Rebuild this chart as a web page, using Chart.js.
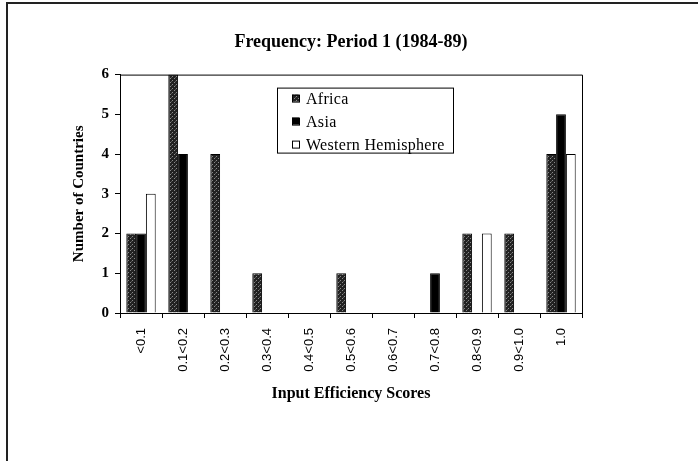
<!DOCTYPE html>
<html>
<head>
<meta charset="utf-8">
<script src="https://cdn.jsdelivr.net/npm/chart.js"></script>
<style>
    body { margin: 0; background: #fff; }
    .wrap { position: relative; width: 698px; height: 461px; }
    .frame {
        position: absolute; left: 6px; top: 2px; right: 0; bottom: 0;
        border-top: 2px solid #222; border-left: 2px solid #222;
        pointer-events: none;
    }
</style>
</head>
<body>
<div class="wrap">
    <canvas id="freqChart" width="698" height="461"></canvas>
    <div class="frame"></div>
</div>
<script>
    // Input efficiency score bins
    const categories = ['<0.1', '0.1<0.2', '0.2<0.3', '0.3<0.4', '0.4<0.5', '0.5<0.6',
        '0.6<0.7', '0.7<0.8', '0.8<0.9', '0.9<1.0', '1.0'];

    // Number of countries in each bin
    const africa = [2, 6, 4, 1, 0, 1, 0, 0, 2, 2, 4];
    const asia = [2, 4, 0, 0, 0, 0, 0, 1, 0, 0, 5];
    const westernHemisphere = [3, 0, 0, 0, 0, 0, 0, 0, 2, 0, 4];

    const seriesNames = ['Africa', 'Asia', 'Western Hemisphere'];
    const yMin = 0, yMax = 6, yStep = 1;

    // stippled dark fill like the printed hatch
    function stipple() {
        const c = document.createElement('canvas');
        c.width = 4; c.height = 4;
        const g = c.getContext('2d');
        g.fillStyle = '#222';
        g.fillRect(0, 0, 4, 4);
        g.fillStyle = '#8a8a8a';
        g.fillRect(0, 0, 1, 1);
        g.fillRect(2, 2, 1, 1);
        g.fillStyle = '#555';
        g.fillRect(3, 1, 1, 1);
        return g.createPattern(c, 'repeat');
    }

    const serif = 'Liberation Serif, Times New Roman, serif';

    // box round the plot area
    const plotBox = {
        id: 'plotBox',
        afterDatasetsDraw(chart) {
            const { ctx, chartArea: a } = chart;
            ctx.save();
            ctx.strokeStyle = '#000';
            ctx.lineWidth = 1;
            ctx.beginPath();
            ctx.moveTo(a.left, a.top + 0.5);
            ctx.lineTo(a.right + 0.5, a.top + 0.5);
            ctx.lineTo(a.right + 0.5, a.bottom);
            ctx.stroke();
            ctx.restore();
        }
    };

    // legend drawn inside the plot, as in the original
    const innerLegend = {
        id: 'innerLegend',
        afterDraw(chart) {
            const { ctx, chartArea: a } = chart;
            const x0 = a.left + 157, y0 = a.top + 13, w = 176, h = 65;
            ctx.save();
            ctx.fillStyle = '#fff';
            ctx.fillRect(x0, y0, w, h);
            ctx.strokeStyle = '#000';
            ctx.lineWidth = 1;
            ctx.strokeRect(x0 + 0.5, y0 + 0.5, w, h);
            ctx.font = '16px ' + serif;
            ctx.letterSpacing = '0.3px';
            ctx.textBaseline = 'middle';
            chart.data.datasets.forEach((ds, i) => {
                const cy = y0 + 11 + i * 23;
                ctx.fillStyle = ds.backgroundColor;
                ctx.fillRect(x0 + 15, cy - 4, 7, 7);
                ctx.strokeRect(x0 + 15.5, cy - 3.5, 7, 7);
                ctx.fillStyle = '#000';
                ctx.fillText(ds.label, x0 + 29, cy + 1);
            });
            ctx.restore();
        }
    };

    const ctx = document.getElementById('freqChart').getContext('2d');
    new Chart(ctx, {
        type: 'bar',
        data: {
            labels: categories,
            datasets: [
                { label: seriesNames[0], data: africa, backgroundColor: stipple() },
                { label: seriesNames[1], data: asia, backgroundColor: '#000' },
                { label: seriesNames[2], data: westernHemisphere, backgroundColor: '#fff' }
            ]
        },
        options: {
            responsive: false,
            animation: false,
            devicePixelRatio: 1,
            datasets: {
                bar: {
                    categoryPercentage: 0.7,
                    barPercentage: 1.0,
                    borderColor: '#000',
                    borderWidth: 1
                }
            },
            layout: { padding: { left: 70, right: 116, top: 0, bottom: 58 } },
            plugins: {
                legend: { display: false },
                tooltip: { enabled: false },
                title: {
                    display: true,
                    fullSize: false,
                    text: 'Frequency: Period 1 (1984-89)',
                    color: '#000',
                    font: { family: serif, size: 18, weight: 'bold' },
                    padding: { top: 32, bottom: 21 }
                }
            },
            scales: {
                x: {
                    afterFit(scale) { scale.height = 90; },
                    grid: { display: true, drawOnChartArea: false, tickLength: 5, color: '#000', offset: true },
                    border: { display: true, color: '#000', width: 1 },
                    ticks: {
                        minRotation: 90, maxRotation: 90, padding: 10, color: '#000',
                        font: { family: 'Liberation Sans, Arial, sans-serif', size: 13 }
                    },
                    title: {
                        display: true, text: 'Input Efficiency Scores', color: '#000',
                        font: { family: serif, size: 16, weight: 'bold' },
                        padding: { top: 0, bottom: 0 }
                    }
                },
                y: {
                    min: yMin, max: yMax,
                    afterFit(scale) { scale.width = 50; },
                    grid: { display: true, drawOnChartArea: false, tickLength: 5, color: '#000' },
                    border: { display: true, color: '#000', width: 1 },
                    ticks: {
                        stepSize: yStep, padding: 6, color: '#000',
                        font: { family: serif, size: 15, weight: 'bold' }
                    },
                    title: {
                        display: true, text: 'Number of Countries', color: '#000',
                        font: { family: serif, size: 15, weight: 'bold' },
                        padding: { top: 0, bottom: 0 }
                    }
                }
            }
        },
        plugins: [plotBox, innerLegend]
    });
</script>
</body>
</html>
